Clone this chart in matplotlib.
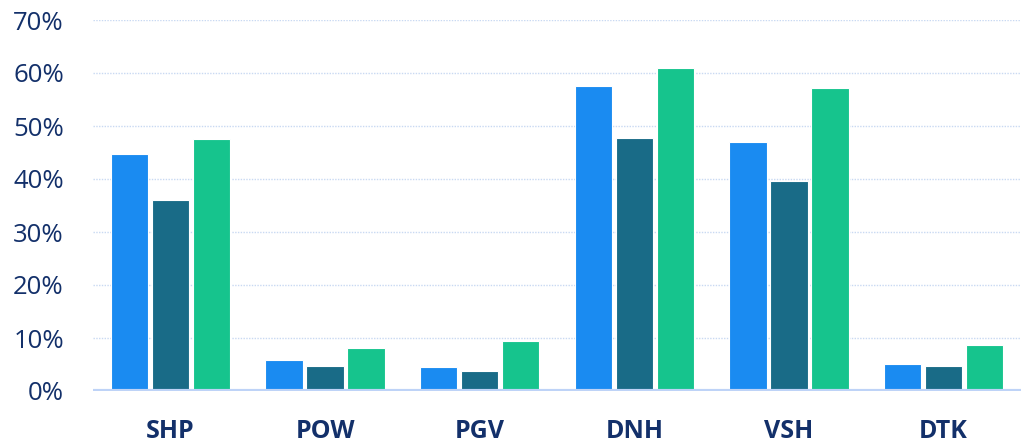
import matplotlib
matplotlib.use("Agg")
import matplotlib.pyplot as plt
import numpy as np

categories = ["SHP", "POW", "PGV", "DNH", "VSH", "DTK"]
series_a = [44.7, 5.85, 4.5, 57.5, 47.0, 5.1]
series_b = [36.0, 4.7, 3.8, 47.7, 39.6, 4.7]
series_c = [47.5, 8.1, 9.4, 60.9, 57.2, 8.7]
yticks = [0, 10, 20, 30, 40, 50, 60, 70]

colors = ["#1A8BF1", "#196B87", "#16C48D"]
text_color = "#13306A"

fig = plt.figure(figsize=(10.21, 4.45), dpi=100)
ax = fig.add_axes([93/1021, 54/445, 928/1021, 371/445])

x = np.arange(len(categories))
w = 0.24
off = 0.265
for i, (vals, c) in enumerate(zip([series_a, series_b, series_c], colors)):
    ax.bar(x + (i - 1) * off, vals, width=w, color=c, edgecolor="white",
           linewidth=0.8, zorder=3)

ax.set_xlim(-0.5, len(categories) - 0.5)
ax.set_ylim(0, 70)
ax.set_yticks(yticks)
ax.set_yticklabels([f"{t}%" for t in yticks], fontfamily="Open Sans",
                   fontsize=18.5, color=text_color)
ax.set_xticks(x)
ax.set_xticklabels(categories, fontfamily="Open Sans", fontweight="bold",
                   fontsize=18, color=text_color)
ax.tick_params(axis="y", length=0, pad=21)
ax.tick_params(axis="x", length=0, pad=20)

for t in yticks[1:]:
    ax.axhline(t, color="#C9D9F2", linewidth=1, linestyle=(0, (1, 1)), zorder=1)
ax.axhline(0, color="#BED3F7", linewidth=3, zorder=4)

for s in ax.spines.values():
    s.set_visible(False)

fig.savefig("out.png", dpi=100)
